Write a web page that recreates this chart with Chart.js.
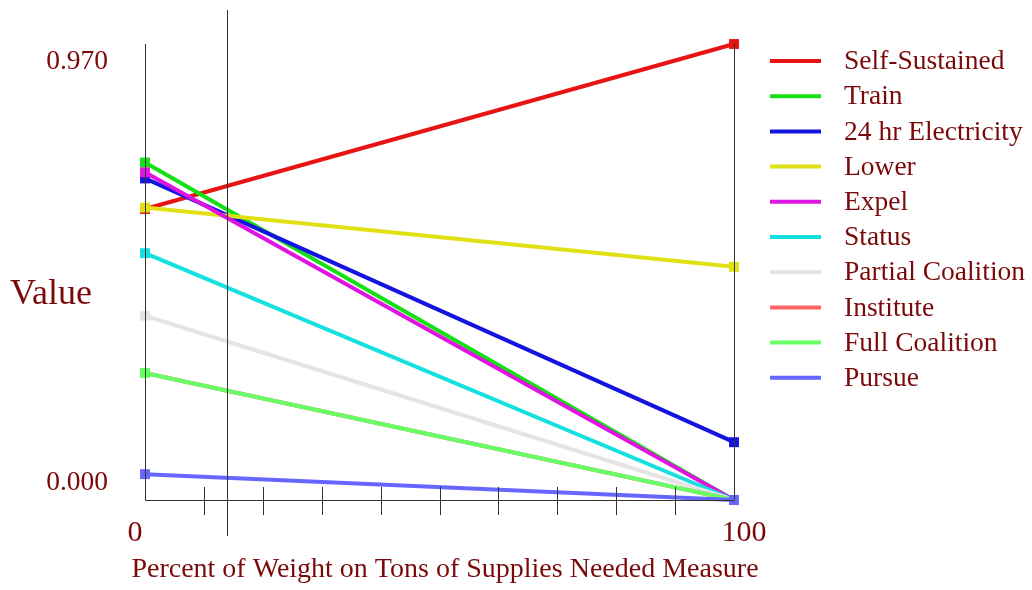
<!DOCTYPE html>
<html>
<head>
<meta charset="utf-8">
<script src="https://cdn.jsdelivr.net/npm/chart.js@4"></script>
<style>
    html, body { margin: 0; padding: 0; background: #fff; }
    #wrap { width: 1032px; height: 590px; }
</style>
</head>
<body>
<div id="wrap"><canvas id="chart" width="1032" height="590"></canvas></div>
<script>
// ===================================
// Chart data
// ===================================
const xValues = [0, 100];
const seriesNames = ['Self-Sustained', 'Train', '24 hr Electricity', 'Lower', 'Expel',
    'Status', 'Partial Coalition', 'Institute', 'Full Coalition', 'Pursue'];
const seriesColors = ['#e81414', '#14e014', '#1414e0', '#e0e014', '#e014e0',
    '#14e0e0', '#e4e4e4', '#ff6666', '#66ff66', '#6666ff'];
const selfSustained = [0.619, 0.970];
const train = [0.718, 0.000];
const electricity = [0.684, 0.123];
const lower = [0.622, 0.496];
const expel = [0.697, 0.000];
const status = [0.525, 0.000];
const partialCoalition = [0.392, 0.000];
const institute = [0.270, 0.000];
const fullCoalition = [0.270, 0.000];
const pursue = [0.055, 0.000];
const seriesValues = [selfSustained, train, electricity, lower, expel,
    status, partialCoalition, institute, fullCoalition, pursue];
const yTickLabels = ['0.000', '0.970'];
const xTickLabels = ['0', '100'];
const minorTicks = [10, 20, 30, 40, 50, 60, 70, 80, 90];
const markerX = 14;

const textColor = '#7a0a0a';
const serif = '"Liberation Serif", "DejaVu Serif", serif';

// Axes, ticks, reference line and legend drawn by hand
const decorPlugin = {
    id: 'decor',
    afterDraw(chart) {
        const ctx = chart.ctx;
        const xs = chart.scales.x;
        const ys = chart.scales.y;
        const left = xs.getPixelForValue(0);
        const right = xs.getPixelForValue(100);
        const top = ys.getPixelForValue(0.97);
        const bottom = ys.getPixelForValue(0);

        ctx.save();
        ctx.strokeStyle = '#333';
        ctx.lineWidth = 1;
        ctx.beginPath();
        ctx.moveTo(left + 0.5, top);
        ctx.lineTo(left + 0.5, bottom + 0.5);
        ctx.lineTo(right, bottom + 0.5);
        ctx.moveTo(right + 0.5, top);
        ctx.lineTo(right + 0.5, bottom);
        minorTicks.forEach(v => {
            const px = Math.round(xs.getPixelForValue(v)) + 0.5;
            ctx.moveTo(px, bottom - 13);
            ctx.lineTo(px, bottom + 15);
        });
        const mx = Math.round(xs.getPixelForValue(markerX)) + 0.5;
        ctx.moveTo(mx, 10);
        ctx.lineTo(mx, bottom + 36);
        ctx.stroke();

        // Tick labels and titles
        ctx.fillStyle = textColor;
        ctx.font = '27.5px ' + serif;
        ctx.textBaseline = 'middle';
        ctx.textAlign = 'right';
        ctx.fillText(yTickLabels[1], 108, top + 18);
        ctx.fillText(yTickLabels[0], 108, bottom - 17);
        ctx.font = '30px ' + serif;
        ctx.textAlign = 'center';
        ctx.fillText(xTickLabels[0], left - 10, bottom + 33);
        ctx.fillText(xTickLabels[1], right + 10, bottom + 33);
        ctx.font = '28px ' + serif;
        ctx.fillText('Percent of Weight on Tons of Supplies Needed Measure', 445, 570);
        ctx.font = '36px ' + serif;
        ctx.textAlign = 'left';
        ctx.fillText('Value', 10, 295);

        // Legend
        ctx.font = '27.5px ' + serif;
        seriesNames.forEach((name, i) => {
            const y = 61 + i * 35.2;
            ctx.strokeStyle = seriesColors[i];
            ctx.lineWidth = 4;
            ctx.beginPath();
            ctx.moveTo(770, y);
            ctx.lineTo(821, y);
            ctx.stroke();
            ctx.fillStyle = textColor;
            ctx.fillText(name, 844, y + 1);
        });
        ctx.restore();
    }
};

function buildDatasets() {
    return seriesNames.map((name, i) => ({
        label: name,
        data: xValues.map((x, j) => ({ x: x, y: seriesValues[i][j] })),
        borderColor: seriesColors[i],
        backgroundColor: seriesColors[i],
        borderWidth: 4,
        pointStyle: 'rect',
        pointRadius: 7,
        pointBorderWidth: 0,
        order: seriesNames.length - i,
        tension: 0
    }));
}

new Chart(document.getElementById('chart'), {
    type: 'line',
    data: { datasets: buildDatasets() },
    plugins: [decorPlugin],
    options: {
        responsive: false,
        animation: false,
        events: [],
        layout: { padding: { left: 145, right: 298, top: 44, bottom: 90 } },
        plugins: { legend: { display: false }, tooltip: { enabled: false } },
        scales: {
            x: { type: 'linear', min: 0, max: 100, display: false },
            y: { type: 'linear', min: 0, max: 0.97, display: false }
        },
        clip: false
    }
});
</script>
</body>
</html>
